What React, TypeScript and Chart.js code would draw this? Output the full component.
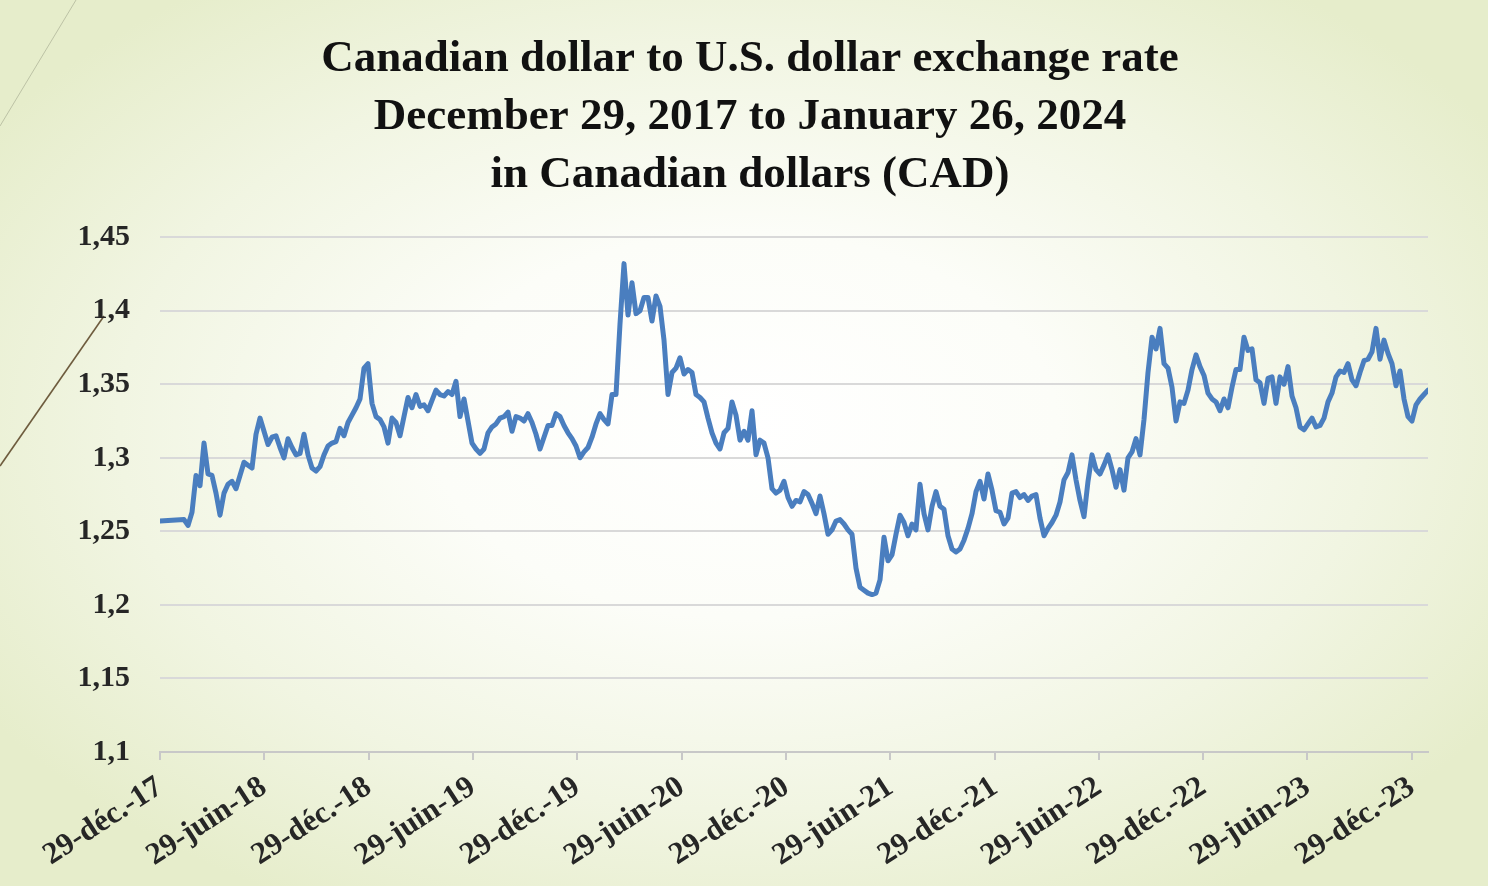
import React, { useEffect, useRef } from "react";
import { Chart, registerables } from "chart.js";

Chart.register(...registerables);

const titleLines: string[] = [
  "Canadian dollar to U.S. dollar exchange rate",
  "December 29, 2017 to January 26, 2024",
  "in Canadian dollars (CAD)",
];

// days elapsed since 29 Dec 2017 for each axis label
const tickDays: number[] = [0, 182, 365, 547, 730, 913, 1096, 1278, 1461, 1643, 1826, 2008, 2191];
const tickLabels: string[] = [
  "29-déc.-17", "29-juin-18", "29-déc.-18", "29-juin-19", "29-déc.-19", "29-juin-20",
  "29-déc.-20", "29-juin-21", "29-déc.-21", "29-juin-22", "29-déc.-22", "29-juin-23", "29-déc.-23",
];
const yTicks: number[] = [1.1, 1.15, 1.2, 1.25, 1.3, 1.35, 1.4, 1.45];
const lastDay = 2219; // 26 Jan 2024

// weekly rates, week 0 = 29 Dec 2017 (null = no observation)
const weeklyRates: (number | null)[] = [
  1.257, null, null, null, null, null, 1.258, 1.254, 1.263, 1.288,
  1.281, 1.310, 1.289, 1.288, 1.276, 1.261, 1.276, 1.282, 1.284, 1.279,
  1.288, 1.297, 1.295, 1.293, 1.316, 1.327, 1.318, 1.309, 1.314, 1.315,
  1.307, 1.300, 1.313, 1.307, 1.302, 1.303, 1.316, 1.302, 1.293, 1.291,
  1.294, 1.302, 1.308, 1.310, 1.311, 1.320, 1.315, 1.324, 1.329, 1.334,
  1.340, 1.361, 1.364, 1.337, 1.328, 1.326, 1.321, 1.310, 1.327, 1.324,
  1.315, 1.328, 1.341, 1.334, 1.343, 1.335, 1.336, 1.332, 1.339, 1.346,
  1.343, 1.342, 1.345, 1.343, 1.352, 1.328, 1.340, 1.325, 1.310, 1.306,
  1.303, 1.306, 1.317, 1.321, 1.323, 1.327, 1.328, 1.331, 1.318, 1.328,
  1.327, 1.325, 1.330, 1.324, 1.316, 1.306, 1.314, 1.322, 1.322, 1.330,
  1.328, 1.322, 1.317, 1.313, 1.308, 1.300, 1.304, 1.307, 1.314, 1.323,
  1.330, 1.326, 1.323, 1.343, 1.343, 1.391, 1.432, 1.397, 1.419, 1.398,
  1.400, 1.409, 1.409, 1.393, 1.410, 1.403, 1.380, 1.343, 1.358, 1.361,
  1.368, 1.357, 1.360, 1.358, 1.343, 1.341, 1.338, 1.327, 1.317, 1.310,
  1.306, 1.317, 1.320, 1.338, 1.329, 1.312, 1.318, 1.312, 1.332, 1.302,
  1.312, 1.310, 1.300, 1.279, 1.276, 1.278, 1.284, 1.273, 1.267, 1.271,
  1.270, 1.277, 1.275, 1.269, 1.262, 1.274, 1.262, 1.248, 1.251, 1.257,
  1.258, 1.255, 1.251, 1.248, 1.225, 1.212, 1.210, 1.208, 1.207, 1.208,
  1.217, 1.246, 1.230, 1.234, 1.248, 1.261, 1.256, 1.247, 1.255, 1.251,
  1.282, 1.262, 1.251, 1.267, 1.277, 1.267, 1.265, 1.247, 1.238, 1.236,
  1.238, 1.244, 1.252, 1.262, 1.277, 1.284, 1.272, 1.289, 1.278, 1.264,
  1.263, 1.255, 1.259, 1.276, 1.277, 1.273, 1.275, 1.271, 1.274, 1.275,
  1.259, 1.247, 1.252, 1.256, 1.261, 1.270, 1.285, 1.290, 1.302, 1.285,
  1.271, 1.260, 1.284, 1.302, 1.292, 1.289, 1.295, 1.302, 1.292, 1.280,
  1.292, 1.278, 1.300, 1.304, 1.313, 1.302, 1.326, 1.358, 1.382, 1.374,
  1.388, 1.364, 1.361, 1.348, 1.325, 1.338, 1.337, 1.346, 1.360, 1.370,
  1.362, 1.356, 1.344, 1.340, 1.338, 1.332, 1.340, 1.334, 1.348, 1.360,
  1.360, 1.382, 1.373, 1.374, 1.353, 1.351, 1.337, 1.354, 1.355, 1.337,
  1.355, 1.350, 1.362, 1.342, 1.334, 1.321, 1.319, 1.323, 1.327, 1.321,
  1.322, 1.327, 1.338, 1.344, 1.355, 1.359, 1.358, 1.364, 1.353, 1.349,
  1.358, 1.366, 1.367, 1.372, 1.388, 1.367, 1.380, 1.371, 1.364, 1.349,
  1.359, 1.340, 1.328, 1.325, 1.336, 1.340, 1.343, 1.346,
];

const FONT = "'Liberation Serif', 'DejaVu Serif', serif";

const decorPlugin = {
  id: "decor",
  beforeDraw(chart: any) {
    const ctx = chart.ctx;
    ctx.save();
    ctx.strokeStyle = "rgba(160,165,140,0.6)";
    ctx.lineWidth = 1;
    ctx.beginPath();
    ctx.moveTo(0, 126);
    ctx.lineTo(76, 0);
    ctx.stroke();
    ctx.strokeStyle = "#6e5c3e";
    ctx.lineWidth = 1.6;
    ctx.beginPath();
    ctx.moveTo(0, 466);
    ctx.lineTo(104, 316);
    ctx.stroke();
    ctx.restore();
  },
};

export default function App() {
  const ref = useRef<HTMLCanvasElement | null>(null);

  useEffect(() => {
    if (!ref.current) return;
    const points = weeklyRates.map((v, i) => ({ x: i * 7, y: v }));
    const chart = new Chart(ref.current, {
      type: "line",
      data: {
        datasets: [
          {
            data: points as any,
            borderColor: "#4a7ebf",
            borderWidth: 5,
            pointRadius: 0,
            tension: 0,
            spanGaps: true,
            borderJoinStyle: "round",
            borderCapStyle: "round",
          },
        ],
      },
      options: {
        animation: false,
        responsive: false,
        devicePixelRatio: 1,
        layout: { padding: { left: 72, right: 60, top: 0, bottom: 0 } },
        plugins: {
          legend: { display: false },
          tooltip: { enabled: false },
          title: {
            display: true,
            text: titleLines,
            color: "#111111",
            font: { family: FONT, size: 45, weight: "bold", lineHeight: 1.29 },
            padding: { top: 30, bottom: 33 },
          },
        },
        scales: {
          x: {
            type: "linear",
            min: 0,
            max: lastDay,
            afterBuildTicks: (scale: any) => {
              scale.ticks = tickDays.map((d) => ({ value: d }));
            },
            afterFit: (scale: any) => {
              scale.height = 134;
            },
            ticks: {
              autoSkip: false,
              minRotation: 33,
              maxRotation: 33,
              padding: 9,
              color: "#262626",
              font: { family: FONT, size: 31, weight: "bold" },
              callback: (value: any) => {
                const idx = tickDays.indexOf(Number(value));
                return idx >= 0 ? tickLabels[idx] : "";
              },
            },
            grid: {
              drawOnChartArea: false,
              drawTicks: true,
              tickLength: 8,
              color: "#c8c8c8",
              lineWidth: 2,
            },
            border: { display: true, color: "#c8c8c8", width: 2 },
          },
          y: {
            type: "linear",
            min: 1.1,
            max: 1.45,
            afterBuildTicks: (scale: any) => {
              scale.ticks = yTicks.map((v) => ({ value: v }));
            },
            afterFit: (scale: any) => {
              scale.width = 88;
            },
            ticks: {
              padding: 30,
              color: "#262626",
              font: { family: FONT, size: 30, weight: "bold" },
              callback: (value: any) =>
                String(Math.round(Number(value) * 100) / 100).replace(".", ","),
            },
            grid: {
              drawTicks: false,
              color: "#d9d9d9",
              lineWidth: 2,
            },
            border: { display: false },
          },
        },
      },
      plugins: [decorPlugin],
    });
    return () => chart.destroy();
  }, []);

  return (
    <div
      style={{
        position: "absolute",
        left: 0,
        top: 0,
        width: 1488,
        height: 886,
        overflow: "hidden",
        background:
          "radial-gradient(ellipse 60% 62% at 50% 48%, #ffffff 0%, #fcfdf8 35%, #f1f5e2 70%, #e6edcb 100%)",
      }}
    >
      <canvas ref={ref} width={1488} height={886} style={{ width: 1488, height: 886, display: "block" }} />
    </div>
  );
}
